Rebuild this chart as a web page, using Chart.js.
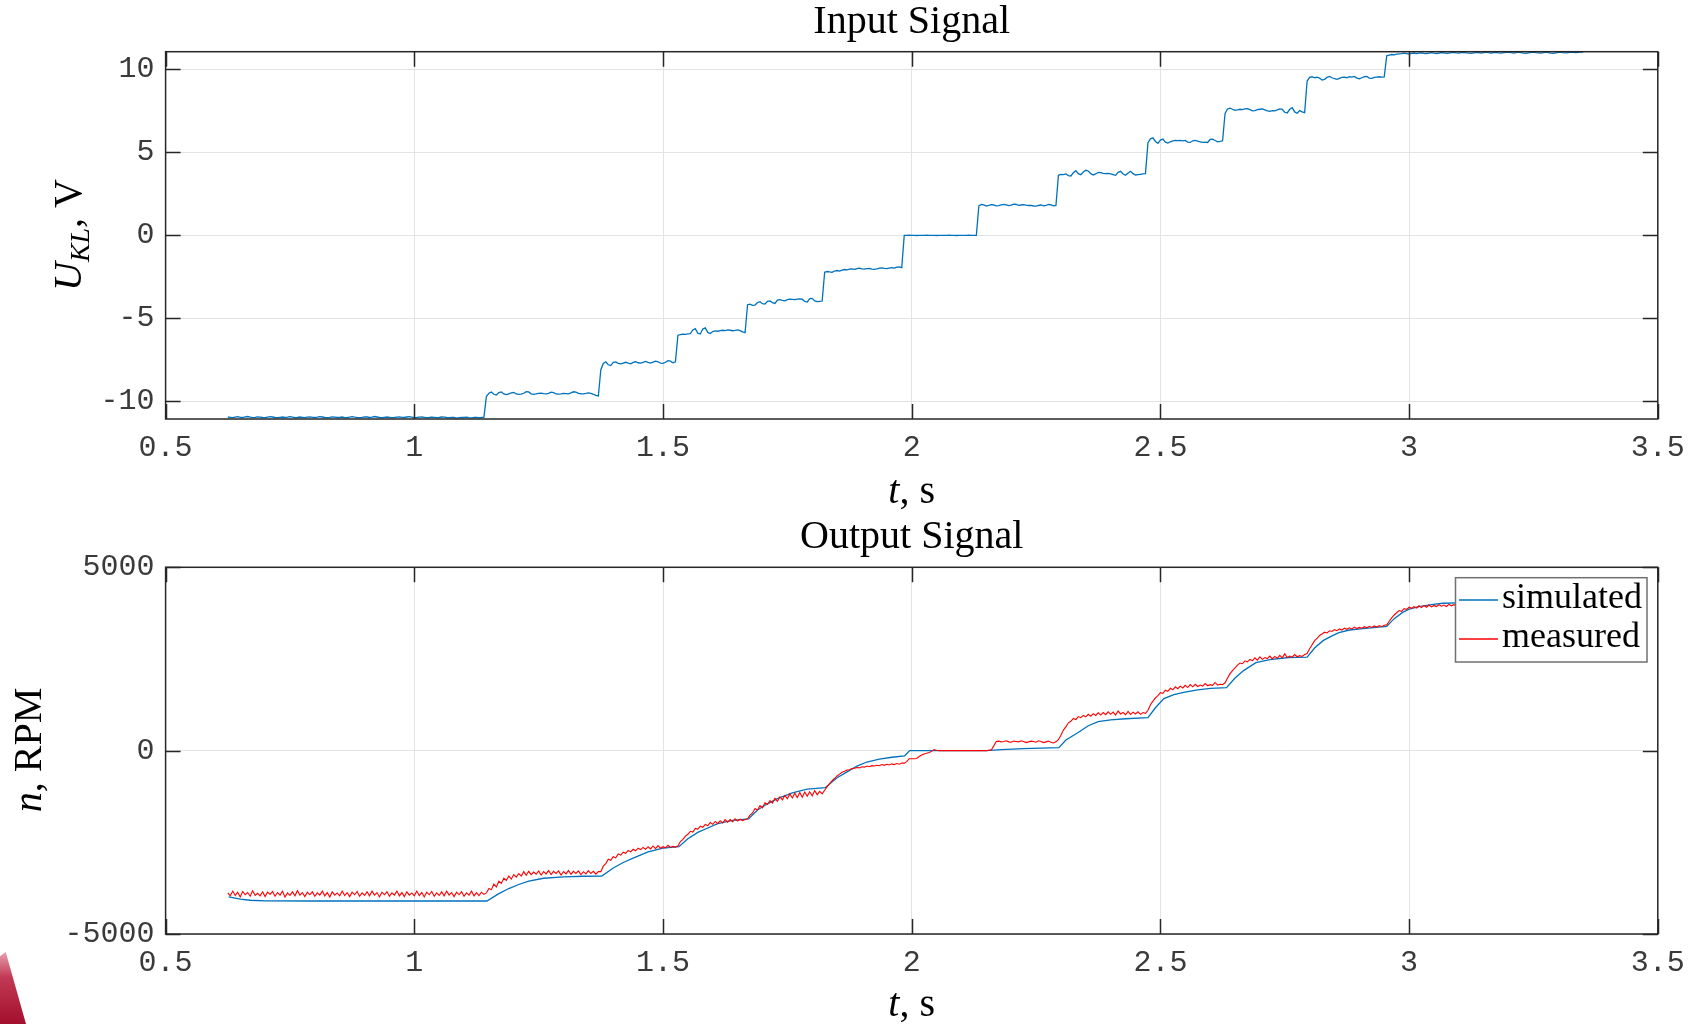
<!DOCTYPE html>
<html>
<head>
<meta charset="utf-8">
<script src="https://cdn.jsdelivr.net/npm/chart.js@4.4.1/dist/chart.umd.min.js"></script>
<style>
html, body { margin: 0; padding: 0; background: #ffffff; }
#wrap { position: relative; width: 1690px; height: 1024px; overflow: hidden; background: #ffffff; }
#wrap canvas { position: absolute; left: 0; }
#corner { position: absolute; left: 0; top: 952px; width: 26px; height: 72px;
  background: linear-gradient(to bottom, #e7a0ad 0%, #c23a55 35%, #a30f2d 100%);
  clip-path: polygon(0 6%, 22% 0, 100% 100%, 0 100%); }
</style>
</head>
<body>
<div id="wrap">
  <canvas id="inputChart" width="1690" height="512" style="top:0px"></canvas>
  <canvas id="outputChart" width="1690" height="512" style="top:512px"></canvas>
  <div id="corner"></div>
</div>
<script>
// ---------------- DATA ----------------
const xTickValues = [0.5, 1, 1.5, 2, 2.5, 3, 3.5];
const xTickLabels = ['0.5', '1', '1.5', '2', '2.5', '3', '3.5'];
const inputYTicks = [-10, -5, 0, 5, 10];
const inputYLabels = ['-10', '-5', '0', '5', '10'];
const outputYTicks = [-5000, 0, 5000];
const outputYLabels = ['-5000', '0', '5000'];

// sampled signals: first sample time and sample period, s
const sampleStart = 0.625;
const samplePeriod = 0.005;

// Input signal U_KL, V (one value per sample)
const inputValues = [
  -10.95,-10.97,-10.99,-10.96,-10.93,-10.97,-10.98,-10.94,-10.92,-10.96,
  -10.99,-10.97,-10.94,-10.96,-10.98,-10.99,-10.96,-10.93,-10.95,-10.98,
  -10.99,-10.97,-10.95,-10.98,-10.96,-10.93,-10.96,-10.99,-10.98,-10.95,
  -10.97,-10.99,-10.96,-10.94,-10.97,-10.98,-10.96,-10.93,-10.95,-10.98,
  -10.99,-10.97,-10.94,-10.96,-10.98,-10.97,-10.95,-10.99,-10.98,-10.96,
  -10.93,-10.96,-10.98,-10.99,-10.97,-10.94,-10.95,-10.98,-10.96,-10.92,
  -10.95,-10.98,-10.99,-10.97,-10.95,-10.97,-10.99,-10.98,-10.96,-10.94,
  -10.97,-10.98,-10.95,-10.93,-10.96,-10.99,-10.98,-10.96,-10.95,-10.97,
  -10.99,-10.98,-10.96,-10.97,-10.99,-10.98,-10.95,-10.96,-10.98,-10.99,
  -10.97,-10.98,-11.02,-10.99,-10.97,-10.98,-10.96,-10.99,-11.00,-10.98,
  -10.97,-10.99,-10.98,-10.96,
  -9.70,-9.52,-9.45,-9.58,-9.62,-9.48,-9.44,-9.56,-9.60,-9.55,
  -9.50,-9.47,-9.56,-9.59,-9.57,-9.52,-9.42,-9.44,-9.55,-9.58,
  -9.56,-9.53,-9.51,-9.54,-9.56,-9.52,-9.45,-9.48,-9.56,-9.57,
  -9.55,-9.52,-9.54,-9.56,-9.50,-9.43,-9.45,-9.52,-9.56,-9.55,
  -9.53,-9.50,-9.52,-9.58,-9.65,-9.68,
  -8.10,-7.72,-7.62,-7.80,-7.85,-7.66,-7.63,-7.72,-7.75,-7.70,
  -7.65,-7.70,-7.74,-7.66,-7.62,-7.68,-7.70,-7.65,-7.60,-7.66,
  -7.70,-7.64,-7.58,-7.62,-7.70,-7.72,-7.65,-7.55,-7.58,-7.68,
  -7.62,
  -6.02,-5.98,-5.96,-5.97,-5.94,-5.92,-5.70,-5.62,-5.90,-5.95,
  -5.65,-5.58,-5.85,-5.92,-5.80,-5.76,-5.78,-5.74,-5.72,-5.74,
  -5.70,-5.72,-5.75,-5.73,-5.70,-5.74,-5.82,-5.86,
  -4.18,-4.15,-4.22,-4.20,-4.05,-4.00,-4.12,-4.14,-3.98,-3.95,
  -4.05,-4.10,-3.90,-3.88,-3.92,-3.95,-3.88,-3.85,-3.86,-3.87,
  -3.84,-3.83,-3.85,-3.98,-4.02,-3.82,-3.80,-3.95,-4.00,-3.98,
  -3.96,
  -2.22,-2.18,-2.20,-2.23,-2.15,-2.12,-2.16,-2.10,-2.06,-2.08,
  -2.04,-2.02,-2.05,-2.00,-1.98,-2.02,-2.04,-2.01,-1.99,-2.03,
  -2.05,-2.02,-1.98,-1.96,-1.99,-2.01,-1.97,-1.95,-1.98,-1.92,
  -1.90,-1.95,
  0.00,0.00,0.01,0.00,0.00,-0.01,0.00,0.00,0.00,0.01,
  0.00,0.00,0.00,-0.01,0.00,0.00,0.00,0.00,0.01,0.00,
  0.00,-0.01,0.00,0.00,0.00,0.00,0.01,0.00,0.00,0.00,
  1.78,1.86,1.84,1.76,1.80,1.85,1.83,1.78,1.79,1.84,
  1.87,1.83,1.79,1.82,1.88,1.86,1.81,1.83,1.85,1.82,
  1.80,1.81,1.77,1.76,1.80,1.83,1.78,1.80,1.86,1.84,
  1.78,1.80,
  3.62,3.68,3.66,3.70,3.60,3.58,3.78,3.90,3.72,3.66,
  3.82,3.92,3.88,3.72,3.64,3.70,3.80,3.78,3.74,3.72,
  3.74,3.70,3.66,3.62,3.80,3.86,3.70,3.62,3.76,3.86,
  3.72,3.64,3.66,3.68,3.70,3.72,
  5.58,5.82,5.88,5.66,5.54,5.74,5.80,5.62,5.56,5.64,
  5.70,5.72,5.71,5.73,5.70,5.72,5.62,5.60,5.70,5.72,
  5.68,5.64,5.60,5.62,5.60,5.78,5.80,5.72,5.64,5.66,
  5.70,
  7.35,7.62,7.66,7.60,7.54,7.56,7.60,7.58,7.62,7.64,
  7.58,7.50,7.52,7.58,7.60,7.62,7.56,7.50,7.48,7.52,
  7.50,7.56,7.62,7.60,7.42,7.38,7.60,7.70,7.44,7.36,
  7.52,7.44,7.40,
  9.30,9.52,9.56,9.50,9.54,9.48,9.36,9.40,9.52,9.58,
  9.50,9.44,9.40,9.46,9.52,9.54,9.50,9.56,9.54,9.58,
  9.48,9.44,9.50,9.56,9.58,9.48,9.46,9.52,9.54,9.56,
  9.54,9.55,
  10.82,10.86,10.90,10.88,10.92,10.94,10.95,10.98,10.96,10.93,
  10.97,10.99,10.96,10.98,11.00,10.97,10.95,10.99,11.01,10.98,
  10.96,10.99,11.02,11.00,10.97,10.99,11.01,11.03,11.00,10.98,
  11.01,11.03,11.00,10.98,10.97,11.00,11.02,11.01,10.99,11.02,
  11.04,11.01,10.99,11.02,11.03,11.00,10.98,11.01,11.03,11.04,
  11.01,10.99,11.02,11.04,11.02,10.99,10.97,11.00,11.03,11.05,
  11.02,11.00,10.98,11.01,11.04,11.02,10.99,10.97,11.00,11.03,
  11.05,11.02,11.00,11.02,11.04,11.03,11.01,11.03,11.05,11.04
];

// Measured speed n, RPM (one value per sample)
const measuredValues = [
  -3880,-3960,-3830,-3950,-3860,-3990,-3840,-3930,-3870,-3970,
  -3820,-3950,-3890,-3960,-3850,-3980,-3860,-3920,-3840,-3970,
  -3870,-3940,-3830,-3990,-3880,-3950,-3850,-3960,-3820,-3940,
  -3870,-3980,-3860,-3930,-3850,-3970,-3880,-3940,-3830,-3960,
  -3870,-3990,-3850,-3940,-3880,-3960,-3830,-3950,-3870,-3980,
  -3860,-3930,-3840,-3970,-3880,-3950,-3850,-3960,-3830,-3940,
  -3870,-3990,-3860,-3930,-3850,-3970,-3880,-3940,-3830,-3960,
  -3870,-3980,-3850,-3940,-3880,-3960,-3830,-3950,-3870,-3990,
  -3860,-3930,-3840,-3970,-3880,-3950,-3850,-3960,-3830,-3940,
  -3870,-3980,-3860,-3930,-3850,-3970,-3880,-3940,-3830,-3960,
  -3870,-3950,-3860,-3920,
  -3880,-3760,-3790,-3640,-3720,-3560,-3620,-3480,-3540,-3420,
  -3500,-3380,-3450,-3350,-3420,-3300,-3400,-3290,-3380,-3310,
  -3370,-3280,-3390,-3300,-3360,-3270,-3380,-3290,-3350,-3280,
  -3390,-3300,-3360,-3270,-3370,-3290,-3350,-3280,-3380,-3300,
  -3360,-3270,-3350,-3290,-3370,-3300,
  -3300,-3150,-3080,-2960,-2990,-2890,-2920,-2820,-2850,-2770,
  -2800,-2720,-2760,-2690,-2730,-2660,-2700,-2640,-2690,-2620,
  -2680,-2600,-2670,-2590,-2660,-2620,-2650,-2580,-2640,-2610,
  -2630,
  -2600,-2480,-2420,-2330,-2280,-2200,-2220,-2120,-2140,-2060,
  -2090,-2010,-2050,-1960,-2010,-1930,-1990,-1910,-1970,-1880,
  -1950,-1880,-1940,-1860,-1920,-1870,-1910,-1880,
  -1860,-1760,-1700,-1580,-1620,-1500,-1560,-1420,-1470,-1360,
  -1430,-1300,-1380,-1260,-1340,-1220,-1310,-1180,-1290,-1160,
  -1280,-1140,-1270,-1130,-1240,-1120,-1230,-1090,-1200,-1110,
  -1180,
  -1080,-980,-900,-820,-760,-690,-640,-590,-560,-530,
  -520,-490,-480,-460,-470,-440,-450,-420,-440,-410,
  -420,-400,-410,-380,-400,-370,-390,-360,-380,-350,
  -370,-340,
  -340,-300,-220,-220,-220,-215,-160,-120,-90,-70,
  -50,-20,30,10,0,0,0,0,0,0,
  0,0,0,0,0,0,0,0,0,0,
  0,0,0,0,10,20,130,250,260,240,
  250,270,240,230,260,250,240,270,250,220,
  240,260,250,230,270,250,220,240,260,230,
  210,240,
  300,420,560,650,760,800,880,850,930,900,
  960,920,990,940,1010,960,1030,970,1040,980,
  1060,990,1050,970,1080,1000,1040,980,1070,990,
  1050,1000,1060,990,1040,1020,
  1100,1250,1350,1440,1500,1580,1560,1650,1620,1700,
  1660,1740,1690,1760,1710,1780,1720,1800,1740,1810,
  1750,1790,1760,1830,1770,1800,1780,1860,1790,1810,
  1800,
  1850,1980,2100,2180,2260,2330,2390,2370,2450,2420,
  2490,2450,2530,2470,2560,2490,2540,2510,2580,2500,
  2570,2520,2600,2530,2640,2540,2580,2550,2620,2560,
  2590,2570,2620,
  2650,2780,2890,3000,3060,3140,3180,3230,3210,3270,
  3250,3300,3270,3320,3290,3340,3310,3350,3320,3370,
  3330,3360,3340,3380,3350,3390,3360,3400,3370,3410,
  3380,3420,
  3430,3530,3620,3700,3760,3820,3800,3870,3850,3910,
  3880,3930,3890,3950,3900,3960,3910,3970,3920,3960,
  3930,3980,3940,3970,3930,3990,3950,3980,3940,3990,
  3960,3980,3950,4000,3960,3990,3950,4000,3970,3990,
  3960,4010,3970,3990,3960,4000,3980,4010,3970,3990,
  3960,4010,3980,4000,3970,4010,3980,4000,3970,4020,
  3980,4000,3970,4010,3990,4010,3980,4020,3990,4000,
  3980,4010,3990,4020,3980,4010,3990,4020,4000,4010
];

// Simulated speed n, RPM (time, value pairs)
const simulatedTimes = [
  0.627, 0.65, 0.67, 0.70, 0.80, 1.00, 1.146, 1.17, 1.19, 1.21,
  1.23, 1.26, 1.30, 1.34, 1.377, 1.40, 1.42, 1.44, 1.47, 1.50,
  1.532, 1.55, 1.57, 1.59, 1.61, 1.64, 1.672, 1.69, 1.71, 1.73,
  1.76, 1.79, 1.826, 1.85, 1.87, 1.89, 1.91, 1.935, 1.96, 1.986,
  1.996, 2.15, 2.18, 2.225, 2.296, 2.31, 2.334, 2.355, 2.375, 2.40,
  2.43, 2.475, 2.49, 2.507, 2.527, 2.547, 2.575, 2.601, 2.633, 2.65,
  2.668, 2.692, 2.72, 2.758, 2.795, 2.81, 2.827, 2.845, 2.859, 2.88,
  2.907, 2.955, 2.97, 2.987, 3.00, 3.02, 3.045, 3.068, 3.10, 3.20,
  3.35
];
const simulatedValues = [
  -3990, -4050, -4080, -4098, -4100, -4100, -4100, -3900, -3760, -3650,
  -3560, -3480, -3440, -3425, -3420, -3200, -3050, -2930, -2760, -2660,
  -2620, -2400, -2230, -2110, -1990, -1900, -1860, -1620, -1450, -1310,
  -1150, -1050, -1010, -740, -580, -420, -310, -230, -180, -140,
  0, 0, 30, 55, 80, 290, 490, 680, 790, 840,
  870, 900, 1170, 1420, 1530, 1590, 1660, 1700, 1720, 1980,
  2190, 2400, 2480, 2540, 2550, 2800, 3000, 3130, 3220, 3290,
  3330, 3390, 3600, 3770, 3860, 3930, 3980, 4020, 4030, 4050,
  4060
];

const seriesNames = ['simulated', 'measured'];

// ---------------- STYLE ----------------
const SERIF = '"Liberation Serif", "DejaVu Serif", serif';
const MONO = '"Liberation Mono", "DejaVu Sans Mono", monospace';
const BLUE = '#0072BD';
const RED = '#FF0000';
const GRID = '#e3e3e3';
const AXIS = '#262626';
const TICKTEXT = '#3a3a3a';

function sampled(values) {
  return values.map((v, i) => ({ x: +(sampleStart + i * samplePeriod).toFixed(3), y: v }));
}
function paired(times, values) {
  return times.map((t, i) => ({ x: t, y: values[i] }));
}

function drawRich(ctx, segs, cx, baseline, rotate) {
  ctx.save();
  ctx.translate(cx, baseline);
  if (rotate) ctx.rotate(rotate);
  ctx.fillStyle = '#000';
  ctx.textBaseline = 'alphabetic';
  ctx.textAlign = 'left';
  let total = 0;
  segs.forEach(s => { ctx.font = s.font; total += ctx.measureText(s.text).width; });
  let x = -total / 2;
  segs.forEach(s => {
    ctx.font = s.font;
    ctx.fillText(s.text, x, s.dy || 0);
    x += ctx.measureText(s.text).width;
  });
  ctx.restore();
}

const framePlugin = {
  id: 'frame',
  afterDatasetsDraw(chart, args, opts) {
    const ctx = chart.ctx, a = chart.chartArea;
    const xs = chart.scales.x, ys = chart.scales.y;
    const L = 15;
    ctx.save();
    ctx.strokeStyle = AXIS;
    ctx.lineWidth = 1.5;
    ctx.beginPath();
    xs.ticks.forEach(t => {
      const px = Math.round(xs.getPixelForValue(t.value)) + 0.5;
      ctx.moveTo(px, a.top); ctx.lineTo(px, a.top + L);
      ctx.moveTo(px, a.bottom); ctx.lineTo(px, a.bottom - L);
    });
    ys.ticks.forEach(t => {
      const py = Math.round(ys.getPixelForValue(t.value)) + 0.5;
      ctx.moveTo(a.left, py); ctx.lineTo(a.left + L, py);
      ctx.moveTo(a.right, py); ctx.lineTo(a.right - L, py);
    });
    ctx.stroke();
    ctx.strokeRect(a.left, a.top, a.right - a.left, a.bottom - a.top);
    ctx.restore();
  },
  afterDraw(chart, args, opts) {
    const ctx = chart.ctx, a = chart.chartArea;
    drawRich(ctx, opts.xTitle, (a.left + a.right) / 2, opts.xTitleBaseline, 0);
    drawRich(ctx, opts.yTitle, opts.yTitleX, opts.yTitleCenter, -Math.PI / 2);
    if (opts.legend) {
      const lg = opts.legend;
      ctx.save();
      ctx.fillStyle = '#ffffff';
      ctx.fillRect(lg.left, lg.top, lg.width, lg.height);
      ctx.strokeStyle = '#707070';
      ctx.lineWidth = 1.5;
      ctx.strokeRect(lg.left, lg.top, lg.width, lg.height);
      chart.data.datasets.forEach((ds, i) => {
        const ly = lg.rowY[i];
        ctx.strokeStyle = ds.borderColor;
        ctx.lineWidth = 1.5;
        ctx.beginPath();
        ctx.moveTo(lg.lineX0, ly); ctx.lineTo(lg.lineX1, ly);
        ctx.stroke();
        ctx.fillStyle = '#000';
        ctx.font = '36px ' + SERIF;
        ctx.textBaseline = 'alphabetic';
        ctx.textAlign = 'left';
        ctx.fillText(ds.label, lg.textX, lg.textBase[i]);
      });
      ctx.restore();
    }
  }
};

function buildChart(id, cfg) {
  return new Chart(document.getElementById(id), {
    type: 'line',
    data: { datasets: cfg.datasets },
    options: {
      responsive: false,
      animation: false,
      events: [],
      layout: { padding: { top: cfg.padTop, right: 32.2, left: 0, bottom: 0 } },
      elements: { point: { radius: 0 }, line: { tension: 0, borderWidth: 1.3 } },
      plugins: {
        legend: { display: false },
        tooltip: { enabled: false },
        title: {
          display: true, text: cfg.title, color: '#000', fullSize: false,
          font: { family: SERIF, size: 40, weight: 'normal', lineHeight: 1 },
          padding: { top: 0, bottom: cfg.titleGap }
        },
        frame: cfg.frame
      },
      scales: {
        x: {
          type: 'linear', min: 0.5, max: 3.5,
          afterBuildTicks: s => { s.ticks = xTickValues.map(v => ({ value: v })); },
          afterFit: s => { s.height = cfg.xAxisHeight; s.paddingLeft = 0; s.paddingRight = 0; },
          grid: { color: GRID, lineWidth: 1, drawTicks: false },
          border: { display: false },
          ticks: {
            padding: 11, color: TICKTEXT, autoSkip: false, maxRotation: 0,
            font: { family: MONO, size: 30 },
            callback: (v, i) => xTickLabels[i]
          }
        },
        y: {
          type: 'linear', min: cfg.yMin, max: cfg.yMax,
          afterBuildTicks: s => { s.ticks = cfg.yTicks.map(v => ({ value: v })); },
          afterFit: s => { s.width = 165.6; s.paddingTop = 0; s.paddingBottom = 0; },
          grid: { color: GRID, lineWidth: 1, drawTicks: false },
          border: { display: false },
          ticks: {
            padding: 11, color: TICKTEXT, autoSkip: false,
            font: { family: MONO, size: 30 },
            callback: (v, i) => cfg.yLabels[i]
          }
        }
      }
    },
    plugins: [framePlugin]
  });
}

const italic40 = 'italic 40px ' + SERIF;
const roman40 = '40px ' + SERIF;

buildChart('inputChart', {
  title: 'Input Signal',
  padTop: 2, titleGap: 9.7, xAxisHeight: 93,
  yMin: -11.07, yMax: 11.07, yTicks: inputYTicks, yLabels: inputYLabels,
  datasets: [{
    label: 'input', data: sampled(inputValues), borderColor: BLUE, borderWidth: 1.3, fill: false
  }],
  frame: {
    xTitle: [{ text: 't', font: italic40 }, { text: ', s', font: roman40 }],
    xTitleBaseline: 503,
    yTitle: [{ text: 'U', font: italic40 }, { text: 'KL', font: 'italic 28px ' + SERIF, dy: 8 }, { text: ', V', font: roman40 }],
    yTitleX: 81, yTitleCenter: 235
  }
});

buildChart('outputChart', {
  title: 'Output Signal',
  padTop: 5.5, titleGap: 9.8, xAxisHeight: 90,
  yMin: -5000, yMax: 5000, yTicks: outputYTicks, yLabels: outputYLabels,
  datasets: [
    { label: seriesNames[0], data: paired(simulatedTimes, simulatedValues), borderColor: BLUE, borderWidth: 1.3, fill: false, order: 2 },
    { label: seriesNames[1], data: sampled(measuredValues), borderColor: RED, borderWidth: 1.1, fill: false, order: 1 }
  ],
  frame: {
    xTitle: [{ text: 't', font: italic40 }, { text: ', s', font: roman40 }],
    xTitleBaseline: 504,
    yTitle: [{ text: 'n', font: italic40 }, { text: ', RPM', font: roman40 }],
    yTitleX: 40.5, yTitleCenter: 238,
    legend: {
      left: 1455.5, top: 65.7, width: 191.5, height: 84.3,
      lineX0: 1459, lineX1: 1498, rowY: [88, 127],
      textX: 1502, textBase: [95.7, 135.3]
    }
  }
});
</script>
</body>
</html>
